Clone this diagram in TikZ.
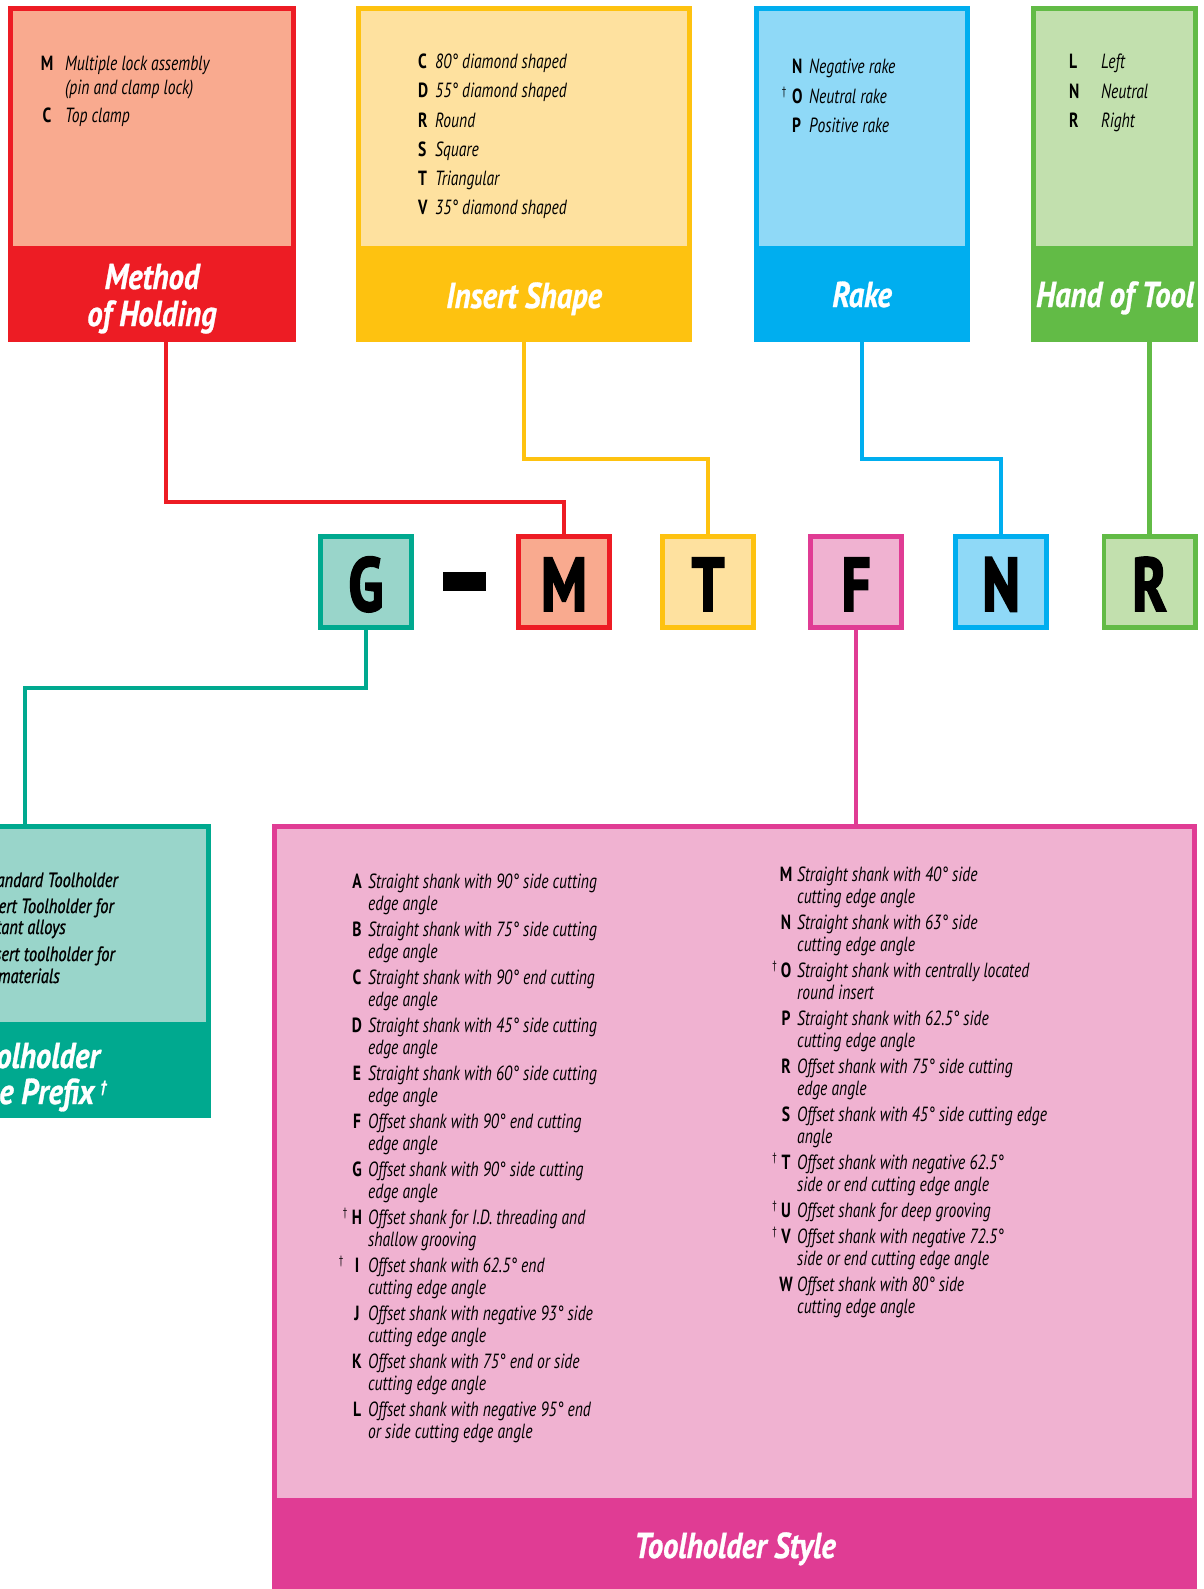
\documentclass[tikz,border=0pt]{standalone}
\usepackage{fontspec}
\newfontfamily\itemf{PT Sans}[FakeStretch=0.76]
\newfontfamily\tealf{PT Sans}[FakeStretch=0.8,FakeBold=1]
\newfontfamily\ttlf{PT Sans}[FakeStretch=0.85,FakeBold=0.8]
\newfontfamily\bigf{PT Sans}[FakeStretch=0.75,FakeBold=2.5]
\newcommand\twoline[2]{\vtop{\hbox{#1}\hbox{#2}}}
\definecolor{cRed}{HTML}{ED1C24}\definecolor{lRed}{HTML}{F9AA8F}
\definecolor{cYel}{HTML}{FEC210}\definecolor{lYel}{HTML}{FEE19F}
\definecolor{cBlu}{HTML}{00AEEF}\definecolor{lBlu}{HTML}{8FD9F7}
\definecolor{cGrn}{HTML}{62BB46}\definecolor{lGrn}{HTML}{C2E0AE}
\definecolor{cTeal}{HTML}{00A98F}\definecolor{lTeal}{HTML}{99D5CA}
\definecolor{cPink}{HTML}{E03C94}\definecolor{lPink}{HTML}{F0B2D1}
\begin{document}
\begin{tikzpicture}[x=1pt,y=-1pt,
  panel/.style={draw=none,inner sep=0pt,outer sep=0pt},
  itm/.style={font=\itemf\itshape\fontsize{20.5}{22}\selectfont,anchor=base west,inner sep=0pt},
  key/.style={font=\itemf\bfseries\fontsize{20.5}{22}\selectfont,inner sep=0pt},
  dag/.style={font=\itemf\fontsize{12}{12}\selectfont,anchor=base,inner sep=0pt},
  tealtx/.style={font=\tealf\itshape\fontsize{20.5}{22}\selectfont,anchor=base east,inner sep=0pt},
  ttl/.style={font=\ttlf\bfseries\itshape\fontsize{36}{38}\selectfont,text=white,inner sep=0pt,anchor=base},
  lbox/.style={minimum size=91.3pt,line width=4.7pt,inner sep=0pt,
    font=\bigf\bfseries\fontsize{76}{76}\selectfont,text height=58pt,text depth=0pt},
  con/.style={line width=4.6pt}]
\useasboundingbox (0,0) rectangle (1203,1589);
\clip (0,0) rectangle (1203,1589);

% ---------- top panels ----------
\node[panel,fill=cRed,minimum width=288pt,minimum height=336pt] (hold) at (152,174) {};
\fill[lRed] (13,11) rectangle (291,246);
\node[panel,fill=cYel,minimum width=336pt,minimum height=336pt] (shape) at (524,174) {};
\fill[lYel] (361,11) rectangle (687,246);
\node[panel,fill=cBlu,minimum width=216pt,minimum height=336pt] (rake) at (862,174) {};
\fill[lBlu] (759,11) rectangle (965,246);
\node[panel,fill=cGrn,minimum width=167pt,minimum height=336pt] (hand) at (1114.5,174) {};
\fill[lGrn] (1036,11) rectangle (1193,246);

% ---------- bottom panels ----------
\node[panel,fill=cTeal,minimum width=372pt,minimum height=294pt] (pref) at (25,971) {};
\fill[lTeal] (-200,829) rectangle (206,1022);
\node[panel,fill=cPink,minimum width=925pt,minimum height=776pt] (sty) at (734.5,1212) {};
\fill[lPink] (277,829) rectangle (1192,1498);

% ---------- titles ----------
\node[ttl] (holdT1) at (152,289) {Method};
\node[ttl] (holdT2) at (152,326) {of Holding};
\node[ttl] (shapeT) at (524,308) {Insert Shape};
\node[ttl] (rakeT) at (862,307) {Rake};
\node[ttl] (handT) at (1115,307) {Hand of Tool};
\node[ttl] (styT) at (735,1558) {Toolholder Style};
\node[ttl,anchor=base east] (prefT1) at (100,1068) {Toolholder};
\node[ttl,anchor=base east] (prefT2) at (107,1104) {Style Prefix\,\raisebox{12pt}{\fontsize{16}{16}\selectfont †}};

% ---------- Method of Holding ----------
\node[key,anchor=base] (hM) at (47,70.5) {M};
\node[itm,font=\itemf\itshape\fontsize{20.5}{24}\selectfont] (hMt) at (65,70.5) {\twoline{Multiple lock assembly}{(pin and clamp lock)}};
\node[key,anchor=base] (hC) at (47,122.5) {C};
\node[itm] (hCt) at (65,122.5) {Top clamp};

% ---------- Insert Shape ----------
\foreach \k/\t/\y [count=\i] in {C/80° diamond shaped/68.5, D/55° diamond shaped/97.8, R/Round/127.1,
    S/Square/156.4, T/Triangular/185.7, V/35° diamond shaped/215}{
  \node[key,anchor=base west] (s\i) at (418,\y) {\k};
  \node[itm] (st\i) at (435,\y) {\t};
}

% ---------- Rake ----------
\foreach \k/\t/\y [count=\i] in {N/Negative rake/74, O/Neutral rake/103.5, P/Positive rake/133}{
  \node[key,anchor=base west] (r\i) at (792,\y) {\k};
  \node[itm] (rt\i) at (809,\y) {\t};
}
\node[dag] (rd2) at (784,95.5) {†};

% ---------- Hand of Tool ----------
\foreach \k/\t/\y [count=\i] in {L/Left/69, N/Neutral/98.5, R/Right/128}{
  \node[key,anchor=base west] (h\i) at (1069,\y) {\k};
  \node[itm] (ht\i) at (1101,\y) {\t};
}

% ---------- Toolholder Style Prefix (cut off at the left edge) ----------
\node[tealtx] (p1) at (118,887) {Standard Toolholder};
\node[tealtx] (p2) at (114,913) {Insert Toolholder for};
\node[tealtx] (p3) at (66,934) {resistant alloys};
\node[tealtx] (p4) at (115,961) {Insert toolholder for};
\node[tealtx] (p5) at (60,983) {materials};

% ---------- Toolholder Style, left column ----------
\foreach \k/\a/\b [count=\i] in {
  A/Straight shank with 90° side cutting/edge angle,
  B/Straight shank with 75° side cutting/edge angle,
  C/Straight shank with 90° end cutting/edge angle,
  D/Straight shank with 45° side cutting/edge angle,
  E/Straight shank with 60° side cutting/edge angle,
  F/Offset shank with 90° end cutting/edge angle,
  G/Offset shank with 90° side cutting/edge angle,
  H/Offset shank for I.D. threading and/shallow grooving,
  I/Offset shank with 62.5° end/cutting edge angle,
  J/Offset shank with negative 93° side/cutting edge angle,
  K/Offset shank with 75° end or side/cutting edge angle,
  L/Offset shank with negative 95° end/or side cutting edge angle}{
  \pgfmathsetmacro\yy{888+48*(\i-1)}
  \node[key,anchor=base] (a\i) at (357,\yy) {\k};
  \node[itm] (at\i) at (368,\yy) {\twoline{\a}{\b}};
}
\node[dag] (ad8) at (345,1216) {†};
\node[dag] (ad9) at (341,1264) {†};

% ---------- Toolholder Style, right column ----------
\foreach \k/\a/\b/\y [count=\i] in {
  M/Straight shank with 40° side/cutting edge angle/881,
  N/Straight shank with 63° side/cutting edge angle/929,
  O/Straight shank with centrally located/round insert/977,
  P/Straight shank with 62.5° side/cutting edge angle/1025,
  R/Offset shank with 75° side cutting/edge angle/1073,
  S/Offset shank with 45° side cutting edge/angle/1121,
  T/Offset shank with negative 62.5°/side or end cutting edge angle/1169,
  V/Offset shank with negative 72.5°/side or end cutting edge angle/1243,
  W/Offset shank with 80° side/cutting edge angle/1291}{
  \node[key,anchor=base] (b\i) at (786,\y) {\k};
  \node[itm] (bt\i) at (797,\y) {\twoline{\a}{\b}};
}
\node[key,anchor=base] (bU) at (786,1217) {U};
\node[itm] (btU) at (797,1217) {Offset shank for deep grooving};
\node[dag] (bd3) at (774.5,969) {†};
\node[dag] (bd7) at (774.5,1161) {†};
\node[dag] (bdU) at (774.5,1209) {†};
\node[dag] (bd8) at (774.5,1235) {†};

% ---------- code letters ----------
\node[lbox,draw=cTeal,fill=lTeal] (G) at (366,582) {G};
\node[fill=black,minimum width=43pt,minimum height=19pt,inner sep=0pt] (dash) at (464.5,581.5) {};
\node[lbox,draw=cRed,fill=lRed] (M) at (564,582) {M};
\node[lbox,draw=cYel,fill=lYel] (T) at (708,582) {T};
\node[lbox,draw=cPink,fill=lPink] (F) at (856,582) {F};
\node[lbox,draw=cBlu,fill=lBlu] (N) at (1001,582) {N};
\node[lbox,draw=cGrn,fill=lGrn] (R) at (1149.5,582) {R};

% ---------- connectors ----------
\draw[con,cRed] ([xshift=14pt]hold.south) -- ++(0,160) -| (M.north);
\draw[con,cYel] (shape.south) -- ++(0,117) -| (T.north);
\draw[con,cBlu] (rake.south) -- ++(0,117) -| (N.north);
\draw[con,cGrn] (hand.south -| R.north) -- (R.north);
\draw[con,cTeal] (G.south) -- ++(0,58) -| (pref.north);
\draw[con,cPink] (F.south) -- (F.south |- sty.north);
\end{tikzpicture}
\end{document}
